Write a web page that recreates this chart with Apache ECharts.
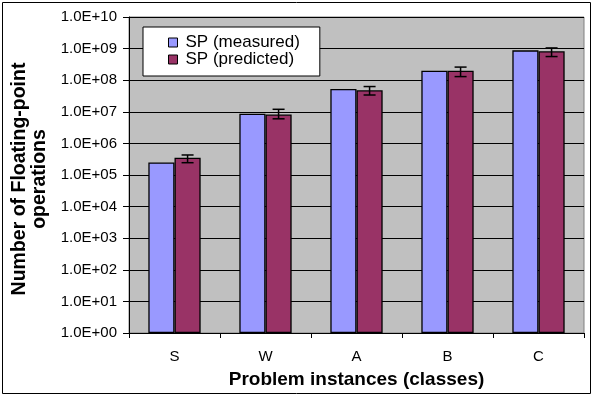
<!DOCTYPE html>
<html><head><meta charset="utf-8">
<script src="https://cdn.jsdelivr.net/npm/echarts@6/dist/echarts.min.js"></script>
<style>html,body{margin:0;padding:0;background:#fff}#c{width:593px;height:396px}</style>
</head><body><div id="c"></div>
<script>
var categories = ['S', 'W', 'A', 'B', 'C'];
var measured = [2.5e5, 8.7e6, 5.3e7, 2.0e8, 8.8e8];
var predicted = [3.5e5, 8.2e6, 4.8e7, 2.0e8, 8.2e8];
var errLow = [2.45e5, 6.0e6, 3.4e7, 1.3e8, 5.6e8];
var errHigh = [4.3e5, 1.2e7, 6.3e7, 2.6e8, 1.05e9];
var seriesNames = ['SP (measured)', 'SP (predicted)'];

var chart = echarts.init(document.getElementById('c'));
var FONT = '"Liberation Sans", Arial, sans-serif';
var errData = categories.map(function (c, i) { return [i, errLow[i], errHigh[i]]; });

chart.setOption({
  animation: false,
  backgroundColor: '#fff',
  graphic: [{
    type: 'rect', shape: { x: 2.5, y: 2.5, width: 588, height: 391 },
    style: { fill: 'none', stroke: '#000', lineWidth: 1 }, z: 100
  }],
  grid: { left: 129, right: 9, top: 17, bottom: 63, show: true,
    backgroundColor: '#C0C0C0', borderColor: '#808080', borderWidth: 1 },
  legend: {
    left: 143, top: 27, orient: 'vertical', itemGap: 0,
    itemWidth: 9, itemHeight: 9, icon: 'rect',
    padding: [7, 20, 8, 25],
    backgroundColor: '#fff', borderColor: '#000', borderWidth: 1,
    textStyle: { fontFamily: FONT, fontSize: 17, color: '#000', lineHeight: 15, padding: [0, 0, 0, 3] },
    data: seriesNames.map(function (n) { return { name: n, itemStyle: { borderColor: '#000', borderWidth: 1 } }; })
  },
  xAxis: {
    type: 'category', data: categories,
    name: 'Problem instances (classes)', nameLocation: 'middle', nameGap: 37,
    nameTextStyle: { fontFamily: FONT, fontSize: 19, fontWeight: 'bold', color: '#000' },
    axisLine: { lineStyle: { color: '#000' } },
    axisTick: { show: true, length: 5, lineStyle: { color: '#000' } },
    axisLabel: { fontFamily: FONT, fontSize: 15, color: '#000', margin: 16 }
  },
  yAxis: {
    type: 'log', logBase: 10, min: 1, max: 1e10, interval: 1,
    name: 'Number of Floating-point\noperations', nameLocation: 'middle', nameGap: 65,
    nameTextStyle: { fontFamily: FONT, fontSize: 19.5, fontWeight: 'bold', color: '#000', lineHeight: 20,
      padding: [0, 8, 0, 0] },
    axisLine: { show: true, lineStyle: { color: '#000' } },
    axisTick: { show: true, length: 6, lineStyle: { color: '#000' } },
    axisLabel: { fontFamily: FONT, fontSize: 15, color: '#000', margin: 12,
      formatter: function (v) {
        var e = Math.round(Math.log10(v));
        return '1.0E+' + (e < 10 ? '0' + e : e);
      } },
    splitLine: { show: true, lineStyle: { color: '#000', width: 1 } }
  },
  series: [
    { name: seriesNames[0], type: 'bar', data: measured, barGap: '0%', barCategoryGap: '42.5%',
      itemStyle: { color: '#9999FF', borderColor: '#000', borderWidth: 1.3 } },
    { name: seriesNames[1], type: 'bar', data: predicted,
      itemStyle: { color: '#993366', borderColor: '#000', borderWidth: 1.3 } },
    { type: 'custom', name: 'err', data: errData, z: 10,
      renderItem: function (params, api) {
        var i = api.value(0);
        var band = api.size([1, 0])[0];
        var off = band * (1 - 0.425) / 4;
        var lo = api.coord([i, api.value(1)]);
        var hi = api.coord([i, api.value(2)]);
        var x = lo[0] + off;
        var hw = 6;
        var st = { stroke: '#000', lineWidth: 1.5 };
        return { type: 'group', children: [
          { type: 'line', shape: { x1: x, y1: lo[1], x2: x, y2: hi[1] }, style: st },
          { type: 'line', shape: { x1: x - hw, y1: lo[1], x2: x + hw, y2: lo[1] }, style: st },
          { type: 'line', shape: { x1: x - hw, y1: hi[1], x2: x + hw, y2: hi[1] }, style: st }
        ] };
      } }
  ]
});
</script></body></html>
